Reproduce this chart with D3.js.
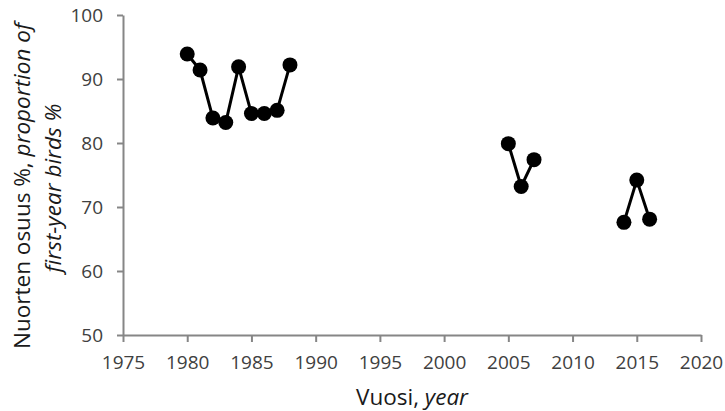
<!DOCTYPE html>
<html><head><meta charset="utf-8">
<script src="https://cdn.jsdelivr.net/npm/d3@7"></script>
<style>body{margin:0;background:#fff}svg{display:block}</style>
</head><body>
<script>
const years = [1980,1981,1982,1983,1984,1985,1986,1987,1988,2005,2006,2007,2014,2015,2016];
const values = [93.9,91.4,83.9,83.2,91.9,84.6,84.6,85.1,92.2,79.9,73.2,77.4,67.6,74.2,68.1];
const xTicks = [1975,1980,1985,1990,1995,2000,2005,2010,2015,2020];
const yTicks = [50,60,70,80,90,100];

const W=725,H=411;
const svg=d3.select("body").append("svg").attr("width",W).attr("height",H);
const x=d3.scaleLinear().domain([1975,2020]).range([123,701]);
const y=d3.scaleLinear().domain([50,100]).range([335,15]);
const font="'Open Sans', sans-serif";
const axisCol="#868686", textCol="#404040";

const xa=svg.append("g").attr("transform","translate(0,335)")
  .call(d3.axisBottom(x).tickValues(xTicks).tickFormat(d3.format("d")).tickSizeInner(7).tickSizeOuter(0).tickPadding(14));
const ya=svg.append("g").attr("transform","translate(123,0)")
  .call(d3.axisLeft(y).tickValues(yTicks).tickSizeInner(6).tickSizeOuter(0).tickPadding(14));
[xa,ya].forEach(g=>{
  g.attr("font-size",null).attr("font-family",null);
  g.select(".domain").attr("stroke",axisCol).attr("stroke-width",2);
  g.selectAll(".tick line").attr("stroke",axisCol).attr("stroke-width",2);
  g.selectAll(".tick text").attr("fill",textCol).attr("font-family",font).attr("font-size",19);
});

const pts=years.map((yr,i)=>({yr,v:values[i]}));
// split into runs of consecutive years
const segs=[];let cur=[];
pts.forEach((p,i)=>{ if(i>0 && p.yr-pts[i-1].yr>1){segs.push(cur);cur=[];} cur.push(p);});
segs.push(cur);
const line=d3.line().x(d=>x(d.yr)).y(d=>y(d.v));
svg.selectAll("path.s").data(segs).enter().append("path").attr("class","s")
  .attr("d",line).attr("fill","none").attr("stroke","#000").attr("stroke-width",3);
svg.selectAll("circle").data(pts).enter().append("circle")
  .attr("cx",d=>x(d.yr)).attr("cy",d=>y(d.v)).attr("r",7.5).attr("fill","#000");

// y title
const yt=svg.append("text").attr("transform","translate(30,186) rotate(-90)")
  .attr("text-anchor","middle").attr("fill","#1a1a1a").attr("font-family",font).attr("font-size",22.5);
yt.append("tspan").text("Nuorten osuus %, ");
yt.append("tspan").attr("font-style","italic").text("proportion of");
svg.append("text").attr("transform","translate(61,188) rotate(-90)")
  .attr("text-anchor","middle").attr("fill","#1a1a1a").attr("font-family",font).attr("font-size",22.5)
  .attr("font-style","italic").text("first-year birds %");
// x title
const xt=svg.append("text").attr("x",412).attr("y",405).attr("text-anchor","middle")
  .attr("fill","#1a1a1a").attr("font-family",font).attr("font-size",22.5);
xt.append("tspan").text("Vuosi, ");
xt.append("tspan").attr("font-style","italic").text("year");
</script>
</body></html>
